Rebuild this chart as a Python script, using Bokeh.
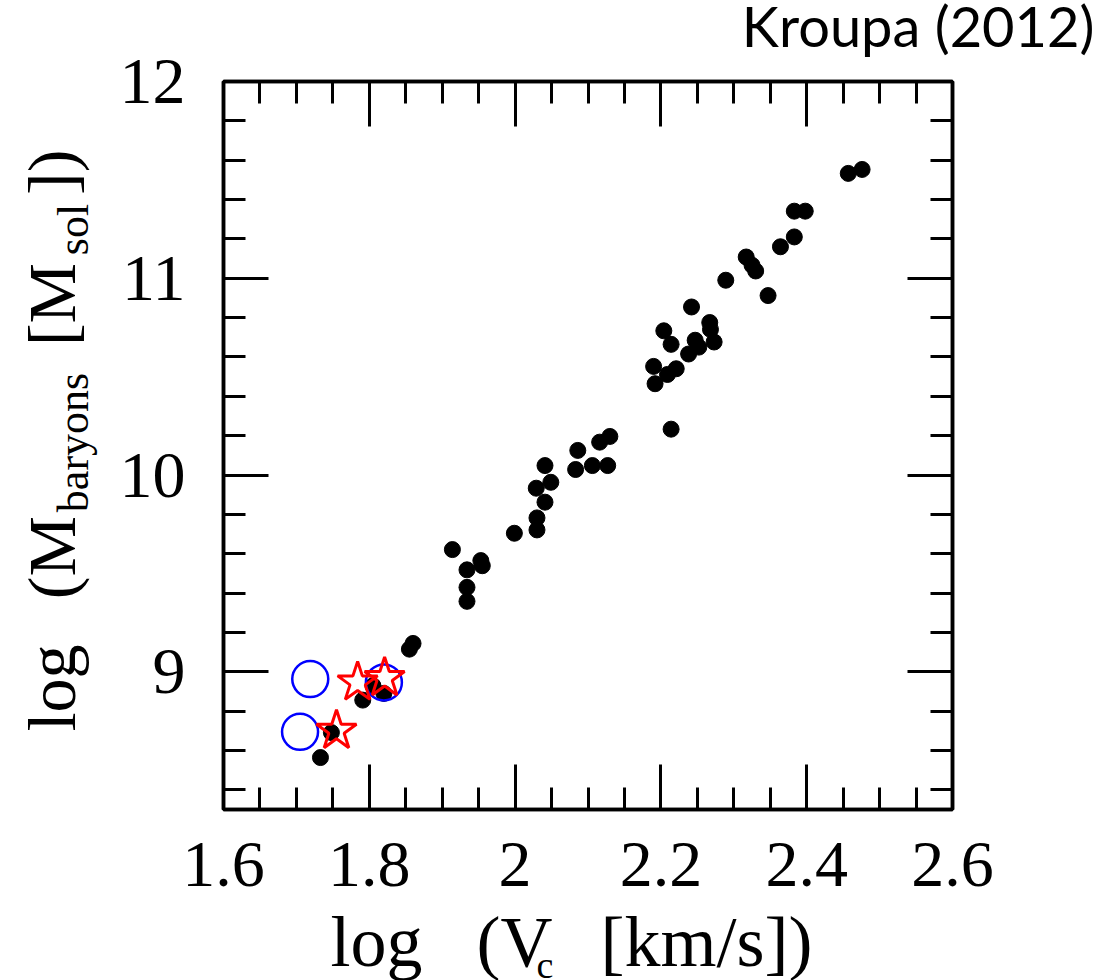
from math import pi

from bokeh.embed import file_html
from bokeh.models import (CustomJSTickFormatter, FixedTicker, Label,
                          LinearAxis, Range1d)
from bokeh.plotting import figure
from bokeh.resources import INLINE

# log circular velocity [km/s] and log baryonic mass [M_sol] of the galaxy sample
log_vc = [2.457, 2.476, 2.383, 2.398, 2.383, 2.364, 2.317, 2.325, 2.330, 2.347,
          2.289, 2.242, 2.204, 2.214, 2.267, 2.268, 2.273, 2.247, 2.252, 2.238,
          2.190, 2.209, 2.221, 2.192, 2.214, 2.086, 2.083, 2.106, 2.127, 2.116,
          2.130, 2.041, 2.049, 2.029, 2.041, 2.030, 2.030, 1.999, 1.914, 1.953,
          1.955, 1.934, 1.934, 1.934, 1.860, 1.855, 1.791, 1.805, 1.820, 1.748,
          1.733]
log_mb = [11.533, 11.553, 11.341, 11.341, 11.210, 11.160, 11.108, 11.066, 11.037, 10.912,
          10.990, 10.854, 10.733, 10.664, 10.775, 10.740, 10.676, 10.685, 10.650, 10.615,
          10.552, 10.511, 10.540, 10.464, 10.233, 10.125, 10.028, 10.048, 10.048, 10.167,
          10.196, 10.048, 9.963, 9.933, 9.862, 9.782, 9.721, 9.704, 9.621, 9.565,
          9.539, 9.518, 9.429, 9.358, 9.144, 9.115, 8.856, 8.929, 8.890, 8.691,
          8.564]

# open blue circles
circ_vc = [1.719, 1.705, 1.820]
circ_mb = [8.963, 8.695, 8.946]

# open red stars
star_vc = [1.784, 1.821, 1.755]
star_mb = [8.946, 8.968, 8.700]

x_major = [1.6, 1.8, 2.0, 2.2, 2.4, 2.6]
x_minor = [1.65, 1.7, 1.75, 1.85, 1.9, 1.95, 2.05, 2.1, 2.15, 2.25, 2.3, 2.35,
           2.45, 2.5, 2.55]
y_major = [9, 10, 11, 12]
y_minor = [8.4, 8.6, 8.8, 9.2, 9.4, 9.6, 9.8, 10.2, 10.4, 10.6, 10.8,
           11.2, 11.4, 11.6, 11.8]

X0, X1 = 1.6, 2.6
Y0, Y1 = 8.3, 12.0

# frame geometry in page pixels
LEFT, TOP, FW, FH = 223, 81, 729, 728
PAGE_W, PAGE_H = 1099, 980

SERIF = "Liberation Serif"
EN, EM, QUARTER, SIXTH = "\u2002", "\u2003", "\u2005", "\u2006"

p = figure(frame_width=FW, frame_height=FH,
           min_border_left=LEFT, min_border_right=PAGE_W - LEFT - FW,
           min_border_top=TOP, min_border_bottom=PAGE_H - TOP - FH,
           x_range=Range1d(X0, X1), y_range=Range1d(Y0, Y1),
           output_backend="svg", toolbar_location=None,
           x_axis_type=None, y_axis_type=None)
p.background_fill_color = "white"
p.border_fill_color = "white"
p.outline_line_color = "black"
p.outline_line_width = 3.5
p.xgrid.visible = False
p.ygrid.visible = False

fmt = CustomJSTickFormatter(code="return tick.toString()")


def make_axis(major, minor, labels):
    ax = LinearAxis(ticker=FixedTicker(ticks=major, minor_ticks=minor),
                    formatter=fmt)
    ax.axis_line_color = "black"
    ax.axis_line_width = 3.5
    ax.major_tick_in = 45
    ax.major_tick_out = 0
    ax.minor_tick_in = 22
    ax.minor_tick_out = 0
    ax.major_tick_line_width = 3
    ax.minor_tick_line_width = 3
    ax.major_tick_line_color = "black"
    ax.minor_tick_line_color = "black"
    if labels:
        ax.major_label_text_font = SERIF
        ax.major_label_text_font_size = "66px"
        ax.major_label_text_color = "black"
    else:
        ax.major_label_text_font_size = "0px"
        ax.major_label_text_alpha = 0
        ax.major_label_standoff = 0
    return ax


xb = make_axis(x_major, x_minor, True)
xb.major_label_standoff = 33
yl = make_axis(y_major, y_minor, True)
yl.major_label_standoff = 38
p.add_layout(xb, "below")
p.add_layout(yl, "left")
p.add_layout(make_axis(x_major, x_minor, False), "above")
p.add_layout(make_axis(y_major, y_minor, False), "right")

p.scatter(log_vc, log_mb, size=16, marker="circle",
          fill_color="black", line_color="black")
p.scatter(circ_vc, circ_mb, size=36, marker="circle",
          fill_color=None, line_color="#0000ff", line_width=2.5)
p.scatter(star_vc, star_mb, size=42, marker="star",
          fill_color=None, line_color="#ff0000", line_width=3)


def at(px, py):
    """Page pixel -> data coordinates (the scales extend past the frame)."""
    return (X0 + (px - LEFT) / FW * (X1 - X0),
            Y1 - (py - TOP) / FH * (Y1 - Y0))


def note(text, px, base, size, side, rotated=False, font=SERIF, align="left"):
    """Text whose baseline sits at `base` (page px); set in a margin panel."""
    drop = 0.21 * size          # descent below the baseline
    if rotated:
        x, y = at(base + drop, px)
    else:
        x, y = at(px, base + drop)
    p.add_layout(Label(x=x, y=y, text=text, angle=pi / 2 if rotated else 0,
                       text_font=font, text_font_size=f"{size}px",
                       text_color="black", text_align=align,
                       text_baseline="bottom"), side)


# vertical axis title: log (M_baryons [M_sol]), reading upwards, centred pieces
note("log" + EN + SIXTH + "(M" + EM + EM + EN + "[M" + EM + "])",
     440, 75, 68, "left", rotated=True, align="center")
note("baryons", 442, 88, 44, "right", rotated=True, align="center")
note("sol", 229, 88, 44, "right", rotated=True, align="center")

# horizontal axis title: log (V_c [km/s])
note("log" + EN + QUARTER + "(V" + EN + SIXTH + "[km/s])", 330, 966, 72, "below")
note("c", 536, 978, 38, "right")

# reference tag in the top right corner
note("Kroupa (2012)", 1094, 47, 56, "above", font="Lato", align="right")

open("out.html", "w").write(file_html(p, INLINE))
